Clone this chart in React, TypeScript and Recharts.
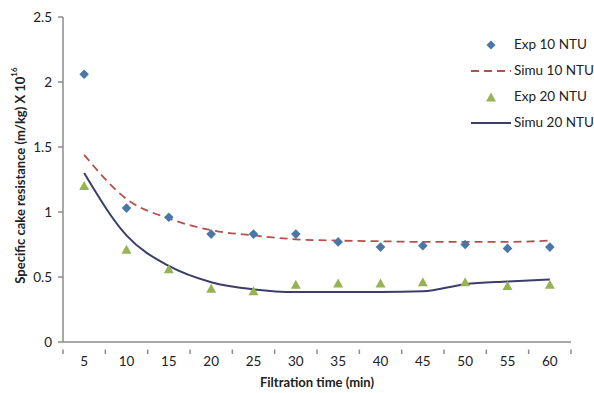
import React from "react";
import { ComposedChart, Line, Scatter, XAxis, YAxis, Legend, Label } from "recharts";

const times = [5, 10, 15, 20, 25, 30, 35, 40, 45, 50, 55, 60];
const exp10 = [2.06, 1.03, 0.96, 0.83, 0.83, 0.83, 0.77, 0.73, 0.74, 0.75, 0.72, 0.73];
const simu10 = [1.44, 1.1, 0.95, 0.86, 0.82, 0.79, 0.78, 0.775, 0.77, 0.77, 0.77, 0.78];
const exp20 = [1.2, 0.71, 0.56, 0.41, 0.39, 0.44, 0.45, 0.45, 0.46, 0.46, 0.43, 0.44];
const simu20 = [1.3, 0.82, 0.585, 0.46, 0.405, 0.385, 0.385, 0.385, 0.39, 0.445, 0.465, 0.48];
const yTicks = [0, 0.5, 1, 1.5, 2, 2.5];
const boundaryTicks = [2.5, 7.5, 12.5, 17.5, 22.5, 27.5, 32.5, 37.5, 42.5, 47.5, 52.5, 57.5, 62.5];
const seriesNames = ["Exp 10 NTU", "Simu 10 NTU", "Exp 20 NTU", "Simu 20 NTU"];

const data = times.map((t, i) => ({ t, exp10: exp10[i], simu10: simu10[i], exp20: exp20[i], simu20: simu20[i] }));

const FONT = "Lato, 'Open Sans', sans-serif";
const BLUE = "#4a77a8";
const RED = "#b5504c";
const GREEN = "#98b356";
const NAVY = "#3c3d69";
const AXIS = "#8c8c8c";

const XTick = (props: any) => {
  const { x, y, payload } = props;
  const v = payload.value;
  if (times.includes(v)) {
    return (
      <text x={x} y={y + 16} textAnchor="middle" fontSize={13.5} fontFamily={FONT} fill="#222">
        {v}
      </text>
    );
  }
  return <line x1={x} x2={x} y1={y - 0.5} y2={y + 4} stroke={AXIS} strokeWidth={1.5} />;
};

const Diamond = (props: any) => {
  const { cx, cy } = props;
  if (cx == null || cy == null) return null;
  const r = 4.8;
  return <path d={`M${cx} ${cy - r} L${cx + r} ${cy} L${cx} ${cy + r} L${cx - r} ${cy} Z`} fill={BLUE} />;
};

const Triangle = (props: any) => {
  const { cx, cy } = props;
  if (cx == null || cy == null) return null;
  return <path d={`M${cx} ${cy - 5} L${cx + 5} ${cy + 4} L${cx - 5} ${cy + 4} Z`} fill={GREEN} />;
};

const YTitle = (props: any) => {
  const vb = props.viewBox;
  const cx = 20;
  const cy = vb.y + vb.height / 2 - 4;
  return (
    <text x={cx} y={cy} transform={`rotate(-90 ${cx} ${cy})`} textAnchor="middle" dominantBaseline="central" fontSize={13} fontWeight="bold" fontFamily={FONT} fill="#222">
      Specific cake resistance (m/kg) X 10
      <tspan fontSize={8} dy={-6}>16</tspan>
    </text>
  );
};

const LegendContent = () => {
  const markers = [
    <svg width={40} height={12}><path d="M20 1.5 L24.5 6 L20 10.5 L15.5 6 Z" fill={BLUE} /></svg>,
    <svg width={40} height={12}><line x1={0} x2={40} y1={6} y2={6} stroke={RED} strokeWidth={1.8} strokeDasharray="8 5" /></svg>,
    <svg width={40} height={12}><path d="M20 1.5 L25 10.5 L15 10.5 Z" fill={GREEN} /></svg>,
    <svg width={40} height={12}><line x1={0} x2={40} y1={6} y2={6} stroke={NAVY} strokeWidth={2} /></svg>,
  ];
  return (
    <div style={{ fontFamily: FONT, fontSize: 13.5, color: "#222" }}>
      {seriesNames.map((n, i) => (
        <div key={n} style={{ display: "flex", alignItems: "center", height: 26 }}>
          <div style={{ width: 43, height: 12 }}>{markers[i]}</div>
          <span>{n}</span>
        </div>
      ))}
    </div>
  );
};

export default function App() {
  return (
    <div style={{ position: "absolute", left: 0, top: 0, background: "#fff" }}>
      <ComposedChart width={594} height={393} data={data} margin={{ top: 17, right: 23, bottom: 0, left: 13 }}>
        <XAxis
          dataKey="t"
          type="number"
          domain={[2.5, 62.5]}
          ticks={[...boundaryTicks, ...times].sort((a, b) => a - b)}
          interval={0}
          tick={<XTick />}
          tickLine={false}
          axisLine={{ stroke: AXIS, strokeWidth: 1.5 }}
          height={51}
        >
          <Label value="Filtration time (min)" position="insideBottom" offset={6} style={{ fontSize: 13, fontWeight: "bold", fontFamily: FONT, fill: "#222" }} />
        </XAxis>
        <YAxis
          type="number"
          domain={[0, 2.5]}
          ticks={yTicks}
          width={50}
          tickSize={5}
          tickMargin={6}
          tick={{ fontSize: 13.5, fontFamily: FONT, fill: "#222" }}
          tickLine={{ stroke: AXIS, strokeWidth: 1.5 }}
          axisLine={{ stroke: AXIS, strokeWidth: 1.5 }}
        >
          <Label content={<YTitle />} />
        </YAxis>
        <Line dataKey="simu10" type="monotone" stroke={RED} strokeWidth={1.8} strokeDasharray="8 5" dot={false} isAnimationActive={false} />
        <Line dataKey="simu20" type="monotone" stroke={NAVY} strokeWidth={2} dot={false} isAnimationActive={false} />
        <Scatter dataKey="exp10" shape={<Diamond />} fill={BLUE} isAnimationActive={false} />
        <Scatter dataKey="exp20" shape={<Triangle />} fill={GREEN} isAnimationActive={false} />
        <Legend
          layout="horizontal"
          align="center"
          verticalAlign="middle"
          content={<LegendContent />}
          wrapperStyle={{ position: "absolute", left: 471, top: 31, width: 125 }}
        />
      </ComposedChart>
    </div>
  );
}
